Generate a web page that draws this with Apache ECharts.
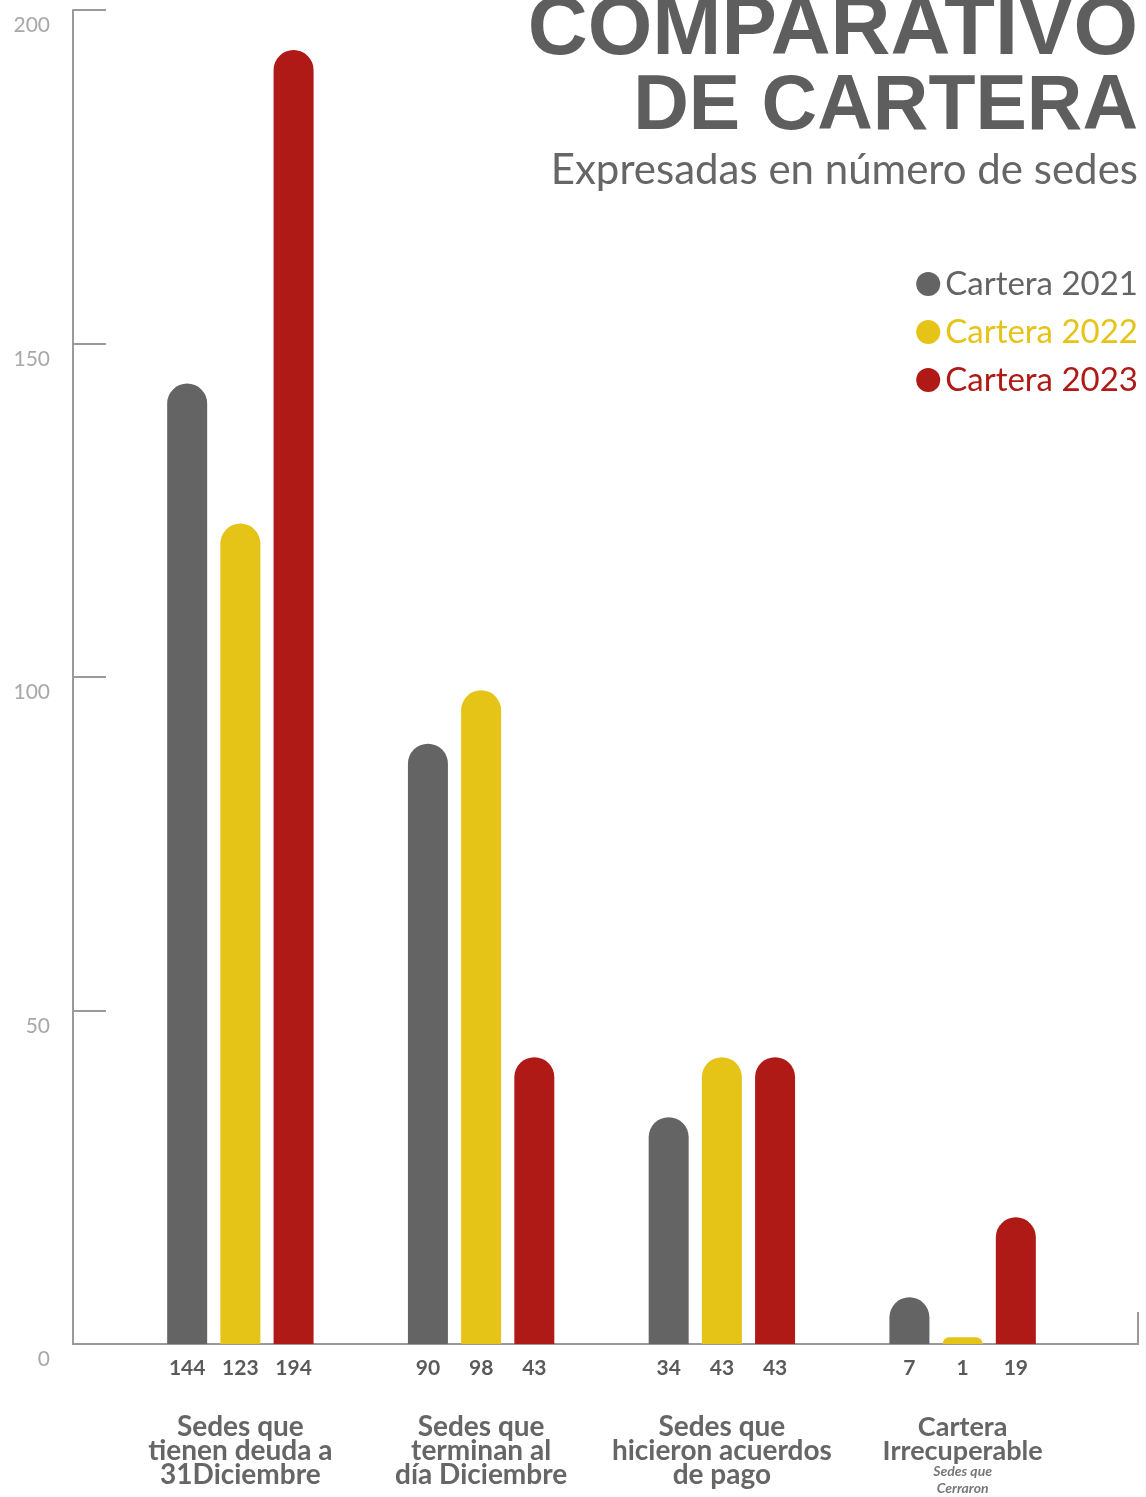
<!DOCTYPE html>
<html>
<head>
<meta charset="utf-8">
<script src="https://cdn.jsdelivr.net/npm/echarts@6/dist/echarts.min.js"></script>
<style>
html,body{margin:0;padding:0;background:#fff;}
#main{width:1146px;height:1497px;}
</style>
</head>
<body>
<div id="main"></div>
<script>
var categories = [
  '{a|Sedes que}\n{a|tienen deuda a}\n{a|31Diciembre}',
  '{a|Sedes que}\n{a|terminan al}\n{a|día Diciembre}',
  '{a|Sedes que}\n{a|hicieron acuerdos}\n{a|de pago}',
  '{b|Cartera}\n{b|Irrecuperable}\n{s|Sedes que}\n{s|Cerraron}'
];
var seriesNames = ['Cartera 2021', 'Cartera 2022', 'Cartera 2023'];
var cartera2021 = [144, 90, 34, 7];
var cartera2022 = [123, 98, 43, 1];
var cartera2023 = [194, 43, 43, 19];
var yTicks = [0, 50, 100, 150, 200];
var colors = ['#646464', '#E6C317', '#AF1916'];

var chart = echarts.init(document.getElementById('main'));
var FONT = 'Lato, "Open Sans", sans-serif';
var TFONT = '"Liberation Sans", Arial, sans-serif';
function mkSeries(i, data) {
  return {
    name: seriesNames[i], type: 'bar', xAxisIndex: 1, yAxisIndex: 1,
    data: data, barWidth: 40, barGap: '33%',
    itemStyle: { color: colors[i], borderRadius: [20, 20, 0, 0] },
    label: { show: true, position: 'bottom', distance: 14, formatter: '{c}',
      fontFamily: FONT, fontSize: 21, fontWeight: 'bold', color: '#5a5a5a' },
    emphasis: { disabled: true }
  };
}
chart.setOption({
  backgroundColor: '#fff',
  animation: false,
  textStyle: { fontFamily: FONT },
  title: [
    { text: 'COMPARATIVO', right: 8, top: -10, padding: 0,
      textStyle: { fontFamily: TFONT, fontSize: 83, fontWeight: 'bold', color: '#5e5e5e', lineHeight: 83 } },
    { text: 'DE CARTERA', right: 8, top: 69, padding: 0,
      textStyle: { fontFamily: TFONT, fontSize: 77, fontWeight: 'bold', color: '#5e5e5e', lineHeight: 77 } },
    { text: 'Expresadas en número de sedes', right: 8, top: 149, padding: 0,
      textStyle: { fontFamily: FONT, fontSize: 42, fontWeight: 'normal', color: '#666', lineHeight: 43 } }
  ],
  legend: {
    orient: 'vertical', right: 8, top: 267, padding: 0,
    icon: 'circle', itemWidth: 24, itemHeight: 24, itemGap: 14,
    selectedMode: false,
    textStyle: { fontFamily: FONT, fontSize: 33, lineHeight: 34 },
    data: [
      { name: seriesNames[0], textStyle: { color: colors[0] } },
      { name: seriesNames[1], textStyle: { color: colors[1] } },
      { name: seriesNames[2], textStyle: { color: colors[2] } }
    ]
  },
  grid: [
    { left: 73, right: 8, top: 10, bottom: 153 },
    { left: 120, right: 63, top: 10, bottom: 153 }
  ],
  xAxis: [
    { gridIndex: 0, type: 'value', min: 0, max: 1,
      axisLine: { show: true, lineStyle: { color: '#9a9a9a', width: 2 } },
      axisTick: { show: false }, axisLabel: { show: false }, splitLine: { show: false } },
    { gridIndex: 1, type: 'category', data: categories,
      axisLine: { show: false }, axisTick: { show: false },
      axisLabel: { interval: 0, margin: 71, verticalAlign: 'top', align: 'center',
        rich: {
          a: { fontFamily: FONT, fontSize: 28, lineHeight: 24, color: '#666', fontWeight: 'bold', align: 'center' },
          b: { fontFamily: FONT, fontSize: 27, lineHeight: 24, color: '#666', fontWeight: 'bold', align: 'center' },
          s: { fontFamily: FONT, fontSize: 14, lineHeight: 17, color: '#777', fontStyle: 'italic', fontWeight: 'bold', align: 'center' }
        } } }
  ],
  yAxis: [
    { gridIndex: 0, type: 'value', min: 0, max: 200, interval: 50,
      axisLine: { show: true, lineStyle: { color: '#9a9a9a', width: 2 } },
      axisTick: { show: true, inside: true, length: 33, lineStyle: { color: '#9a9a9a', width: 2 } },
      axisLabel: { margin: 23, verticalAlign: 'top', padding: [5, 0, 0, 0],
        fontFamily: FONT, fontSize: 21, color: '#a8a8a8',
        customValues: yTicks },
      splitLine: { show: false } },
    { gridIndex: 1, type: 'value', min: 0, max: 200, interval: 50, show: false }
  ],
  graphic: [
    { type: 'line', shape: { x1: 1138, y1: 1312, x2: 1138, y2: 1345 },
      style: { stroke: '#9a9a9a', lineWidth: 2 } }
  ],
  series: [ mkSeries(0, cartera2021), mkSeries(1, cartera2022), mkSeries(2, cartera2023) ]
});
</script>
</body>
</html>
